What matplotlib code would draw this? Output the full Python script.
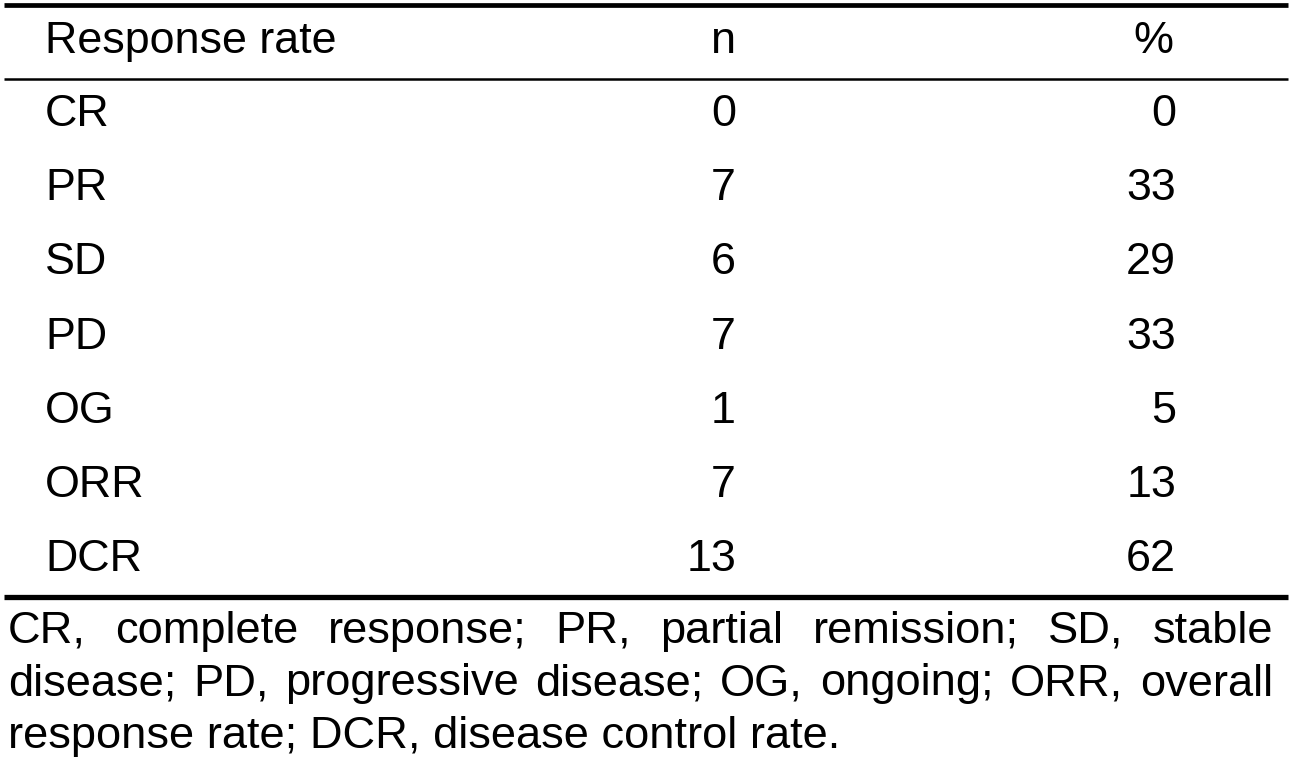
import matplotlib
matplotlib.use("Agg")
import matplotlib.pyplot as plt

plt.rcParams['font.family'] = ['Liberation Sans', 'DejaVu Sans']

header = ["Response rate", "n", "%"]
categories = ["CR", "PR", "SD", "PD", "OG", "ORR", "DCR"]
n_values = [0, 7, 6, 7, 1, 7, 13]
pct_values = [0, 33, 29, 33, 5, 13, 62]
footnote_lines = [
    "CR, complete response; PR, partial remission; SD, stable",
    "disease; PD, progressive disease; OG, ongoing; ORR, overall",
    "response rate; DCR, disease control rate.",
]

W, H = 1291, 767
fig = plt.figure(figsize=(W / 100, H / 100), dpi=100)
ax = fig.add_axes([0, 0, 1, 1])
ax.set_xlim(0, W)
ax.set_ylim(H, 0)
ax.axis('off')

fs_table = 32.3
fs_note = 32.6
x_left = 45
x_n = 736
x_pct = 1176

# rules
ax.hlines(5, 4, 1288, color='black', lw=3.4)
ax.hlines(78.5, 4, 1288, color='black', lw=1.8)
ax.hlines(597, 4, 1288, color='black', lw=3.8)

# header
ax.text(x_left, 53, header[0], fontsize=fs_table, va='baseline', ha='left')
ax.text(x_n, 53, header[1], fontsize=fs_table, va='baseline', ha='right')
ax.text(x_pct - 3, 53, header[2], fontsize=fs_table, va='baseline', ha='right')

# body rows
for i, (cat, n, p) in enumerate(zip(categories, n_values, pct_values)):
    y = 126 + 74.2 * i
    ax.text(x_left, y, cat, fontsize=fs_table, va='baseline', ha='left')
    ax.text(x_n, y, str(n), fontsize=fs_table, va='baseline', ha='right')
    ax.text(x_pct, y, str(p), fontsize=fs_table, va='baseline', ha='right')

# footnote, justified except last line
renderer = fig.canvas.get_renderer()
note_x0, note_x1 = 8, 1273
for j, line in enumerate(footnote_lines):
    y = 643 + 52.5 * j
    if j == len(footnote_lines) - 1:
        ax.text(note_x0, y, line, fontsize=fs_note, va='baseline', ha='left')
        continue
    words = line.split(' ')
    texts = [ax.text(0, y, w, fontsize=fs_note, va='baseline', ha='left') for w in words]
    widths = [t.get_window_extent(renderer).width for t in texts]
    gap = (note_x1 - note_x0 - sum(widths)) / (len(words) - 1)
    x = note_x0
    for t, w in zip(texts, widths):
        t.set_x(x)
        x += w + gap

fig.savefig("out.png", dpi=100)
